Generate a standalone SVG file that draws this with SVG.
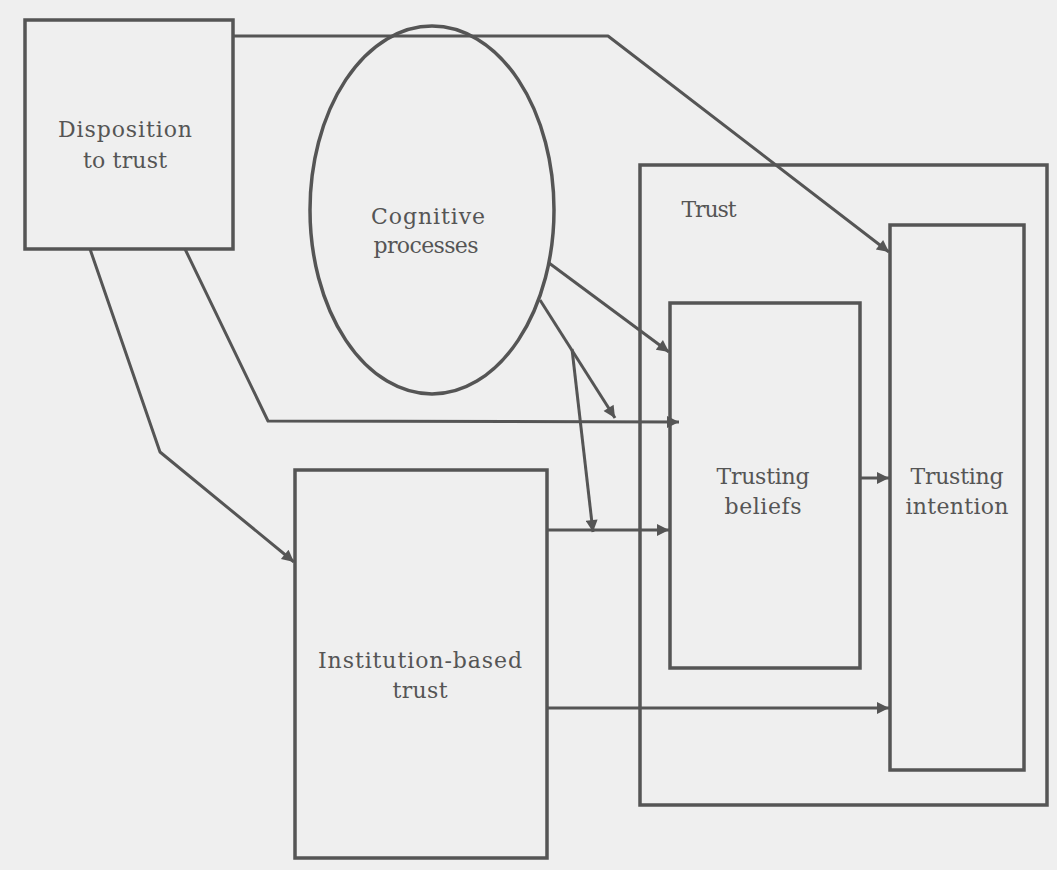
<svg xmlns="http://www.w3.org/2000/svg" width="1057" height="870" viewBox="0 0 1057 870">
<style>
.box{fill:none;stroke:#555;stroke-width:3.5}
.ln{fill:none;stroke:#555;stroke-width:3;stroke-linejoin:round}
.t{font-family:"DejaVu Serif","Liberation Serif",serif;font-size:22px;fill:#555;text-anchor:middle}
</style>
<defs>
<marker id="a" viewBox="0 0 10 10" refX="10" refY="5" markerWidth="5" markerHeight="4" orient="auto">
<path d="M0,0 L10,5 L0,10 z" fill="#555"/>
</marker>
</defs>
<rect width="1057" height="870" fill="#efefef"/>
<g id="trust">
<rect class="box" x="640" y="165" width="407" height="640"/>
<text class="t" x="709" y="217" textLength="55">Trust</text>
</g>
<g id="disposition">
<rect class="box" x="25" y="20" width="208" height="229"/>
<text class="t" x="125" y="137" textLength="134">Disposition</text>
<text class="t" x="125" y="168" textLength="84">to trust</text>
</g>
<g id="cognitive">
<ellipse class="box" cx="432" cy="210" rx="122" ry="184"/>
<text class="t" x="428" y="224" textLength="114">Cognitive</text>
<text class="t" x="426" y="253" textLength="105">processes</text>
</g>
<g id="institution">
<rect class="box" x="295" y="470" width="252" height="388"/>
<text class="t" x="420" y="668" textLength="204">Institution-based</text>
<text class="t" x="420" y="698" textLength="55">trust</text>
</g>
<g id="beliefs">
<rect class="box" x="670" y="303" width="190" height="365"/>
<text class="t" x="763" y="484" textLength="93">Trusting</text>
<text class="t" x="763" y="514" textLength="77">beliefs</text>
</g>
<g id="intention">
<rect class="box" x="890" y="225" width="134" height="545"/>
<text class="t" x="957" y="484" textLength="93">Trusting</text>
<text class="t" x="957" y="514" textLength="103">intention</text>
</g>
<g id="connectors">
<polyline class="ln" points="233,36 608,36 889,252" marker-end="url(#a)"/>
<polyline class="ln" points="185,249 268,421 679,422" marker-end="url(#a)"/>
<polyline class="ln" points="90,249 160,452 294,562" marker-end="url(#a)"/>
<line class="ln" x1="549" y1="263" x2="669" y2="352" marker-end="url(#a)"/>
<line class="ln" x1="540" y1="300" x2="615" y2="418" marker-end="url(#a)"/>
<line class="ln" x1="572" y1="349" x2="593" y2="532" marker-end="url(#a)"/>
<line class="ln" x1="547" y1="530" x2="669" y2="530" marker-end="url(#a)"/>
<line class="ln" x1="547" y1="708" x2="889" y2="708" marker-end="url(#a)"/>
<line class="ln" x1="860" y1="478" x2="889" y2="478" marker-end="url(#a)"/>
</g>
</svg>
